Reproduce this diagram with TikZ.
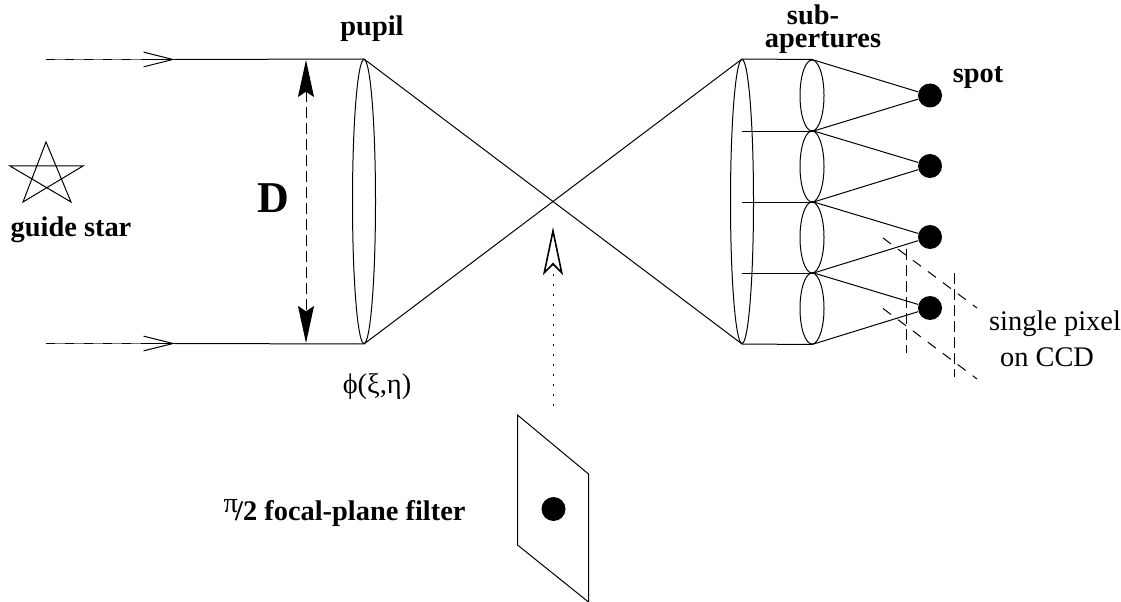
\documentclass[tikz,border=0pt]{standalone}
\usepackage{fontspec}
\setmainfont{Liberation Serif}
\usetikzlibrary{arrows.meta, shapes.geometric}

\begin{document}
\begin{tikzpicture}[
    x=0.75pt, y=-0.75pt,
    line width=0.75pt,
    lensa/.style={draw, ellipse, inner sep=0pt, minimum width=17.25pt, minimum height=213pt},
    lensb/.style={draw, ellipse, inner sep=0pt, minimum width=18pt, minimum height=53.25pt},
    spot/.style={circle, fill=black, inner sep=0pt, minimum size=18pt},
    lbl/.style={inner sep=0pt, anchor=base, font=\fontsize{21.3}{22}\selectfont\bfseries},
    lblthin/.style={inner sep=0pt, anchor=base, font=\fontsize{21.3}{22}\selectfont},
    rayhead/.style={-{Straight Barb[length=22pt, width=11pt]}},
    raydash/.style={dash pattern=on 6.75pt off 7.5pt},
    pixel/.style={dash pattern=on 7.5pt off 6.5pt},
    pixelv/.style={dash pattern=on 8pt off 4pt},
    dimen/.style={dash pattern=on 8pt off 4pt, {Stealth[length=27.75pt, width=12pt, inset=4pt]}-{Stealth[length=27.75pt, width=12pt, inset=4pt]}},
    hollow/.style={{Stealth[open, length=36pt, width=15pt, inset=7.5pt, line width=1.2pt]}-, dash pattern=on 1.5pt off 6pt}
  ]
  \useasboundingbox (0,0) rectangle (1121,602);

  % --- Lentes ---
  \node[lensa] (pupil) at (364,201.5) {};
  \node[lensa] (relay) at (742,201.5) {};
  \foreach \n/\y/\s in {1/95.5/95.5, 2/166.5/166, 3/237.5/237, 4/308.5/308} {
    \node[lensb] (sub\n) at (812,\y) {};
    \node[spot] (spot\n) at (930,\s) {};
    \draw (sub\n.north) -- (spot\n);
    \draw (sub\n.south) -- (spot\n);
  }

  % --- Rayos ---
  \coordinate (in1) at (46,59.5);
  \coordinate (in2) at (46,343.5);
  \coordinate (head1) at (175,59.5);
  \coordinate (head2) at (175,343.5);
  \foreach \n/\l in {1/north, 2/south} {
    \draw[black!55] (in\n) -- (head\n);
    \draw[raydash] (in\n) -- (head\n);
    \draw[rayhead] (in\n) ++(100,0) -- (head\n);
    \draw (head\n) -- (pupil.\l);
  }
  \draw (pupil.north) -- (relay.south);
  \draw (pupil.south) -- (relay.north);
  \draw (relay.north) -- (sub1.north);
  \draw (relay.south) -- (sub4.south);
  \foreach \n in {1,2,3}
    \draw (sub\n.south) -- (relay.center |- sub\n.south);

  % --- Cota D ---
  \coordinate (dtop) at (306,60);
  \coordinate (dbot) at (306,343);
  \draw[dimen] (dtop) -- (dbot);
  \node[inner sep=0pt, anchor=base, font=\fontsize{33}{33}\selectfont\bfseries] (dlabel) at (273.5,213) {D};

  % --- Estrella ---
  \coordinate (s1) at (46,142);
  \coordinate (s2) at (71,202);
  \coordinate (s3) at (10,166);
  \coordinate (s4) at (83,166);
  \coordinate (s5) at (23,202);
  \draw (s1) -- (s2) -- (s3) -- (s4) -- (s5) -- cycle;
  \node[lbl] (star) at (71,237) {guide star};

  % --- Filtro ---
  \coordinate (f1) at (517.5,415);
  \coordinate (f2) at (588.5,474);
  \coordinate (f3) at (588.5,602);
  \coordinate (f4) at (517.5,545);
  \draw (f1) -- (f2) -- (f3) -- (f4) -- cycle;
  \node[spot] (fspot) at (553.5,509) {};
  \coordinate (ftip) at (553,227);
  \coordinate (fend) at (553,413);
  \draw[hollow] (ftip) -- (fend);
  \node[lbl, anchor=base west] (filter) at (223,520) {\raisebox{6pt}{\mdseries π}\kern-2pt/2 focal-plane filter};

  % --- Pixeles ---
  \coordinate (p1) at (883,238);
  \coordinate (p2) at (977,308);
  \coordinate (p3) at (883,308.5);
  \coordinate (p4) at (977,379);
  \coordinate (p5) at (906.7,249);
  \coordinate (p6) at (906.7,353);
  \coordinate (p7) at (954,273);
  \coordinate (p8) at (954,377);
  \draw[pixel] (p1) -- (p2);
  \draw[pixel] (p3) -- (p4);
  \draw[pixelv] (p5) -- (p6);
  \draw[pixelv] (p7) -- (p8);

  % --- Textos ---
  \node[lbl] (pupillabel) at (372,36) {pupil};
  \node[lbl, align=center, font=\fontsize{21.3}{17.25}\selectfont\bfseries] (sublabel) at (823,48) {sub-\hspace*{15pt}\\apertures};
  \node[lbl] (spotlabel) at (978,83) {spot};
  \node[lblthin] (philabel) at (377,393) {ϕ(ξ,η)};
  \node[lblthin] (pixlabel) at (1055,330) {single pixel};
  \node[lblthin] (ccdlabel) at (1047,367) {on CCD};
\end{tikzpicture}
\end{document}
